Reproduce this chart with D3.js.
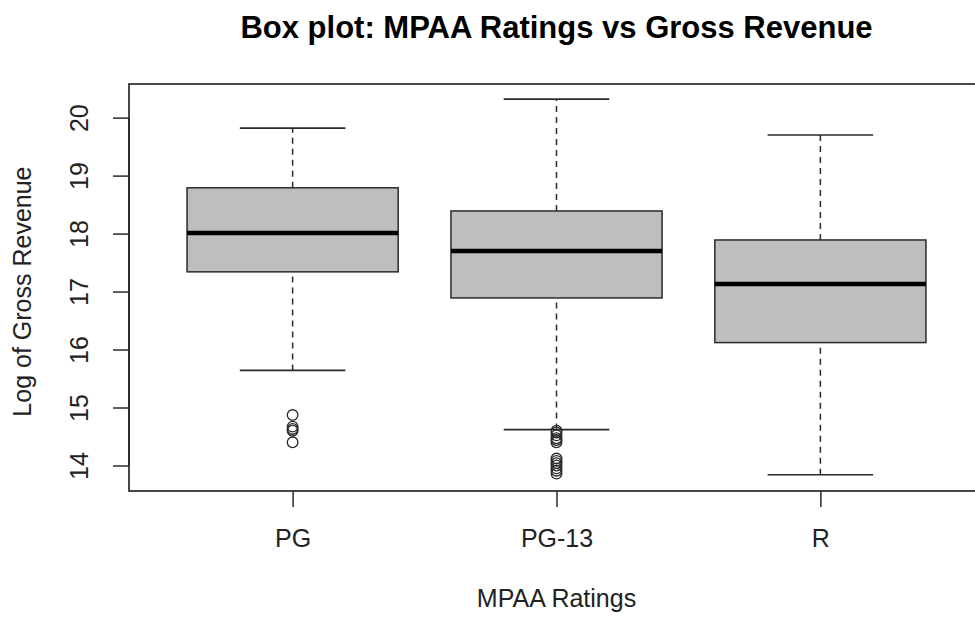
<!DOCTYPE html>
<html>
<head>
<meta charset="utf-8">
<script src="https://cdn.jsdelivr.net/npm/d3@7"></script>
<style>
  body { margin: 0; background: #fff; }
  svg { display: block; font-family: "Liberation Sans", Arial, sans-serif; }
</style>
</head>
<body>
<div id="chart"></div>
<script>
const categories = ["PG", "PG-13", "R"];
const whiskerLow = [15.64, 14.62, 13.84];
const q1 = [17.34, 16.89, 16.12];
const median = [18.01, 17.70, 17.13];
const q3 = [18.79, 18.39, 17.89];
const whiskerHigh = [19.82, 20.32, 19.70];
const outliersPG = [14.87, 14.67, 14.63, 14.60, 14.40];
const outliersPG13 = [14.60, 14.57, 14.52, 14.47, 14.44, 14.40, 14.12, 14.08, 14.04, 14.00, 13.95, 13.91, 13.86];
const outliersR = [];
const yTicks = [14, 15, 16, 17, 18, 19, 20];

const width = 975, height = 619;
const margin = {top: 84, right: -9, bottom: 128, left: 129};

const svg = d3.select("#chart").append("svg")
  .attr("width", width)
  .attr("height", height);

const x = d3.scalePoint()
  .domain(categories)
  .range([margin.left, width - margin.right])
  .padding(0.62);

const y = d3.scaleLinear()
  .domain([13.56, 20.58])
  .range([height - margin.bottom, margin.top]);

const step = x.step();
const boxW = step * 0.8, capW = step * 0.4;
const ink = "#2a2a2a";

const boxes = categories.map((c, i) => ({
  cat: c, lo: whiskerLow[i], q1: q1[i], med: median[i], q3: q3[i], hi: whiskerHigh[i],
  out: [outliersPG, outliersPG13, outliersR][i]
}));

const g = svg.append("g");

// whiskers
g.selectAll(".whisk").data(boxes.flatMap(d => [[d.cat, d.lo, d.q1], [d.cat, d.q3, d.hi]]))
  .enter().append("line")
  .attr("x1", d => x(d[0])).attr("x2", d => x(d[0]))
  .attr("y1", d => y(d[1])).attr("y2", d => y(d[2]))
  .attr("stroke", ink).attr("stroke-width", 1.5)
  .attr("stroke-dasharray", "6,5");

// caps
g.selectAll(".cap").data(boxes.flatMap(d => [[d.cat, d.lo], [d.cat, d.hi]]))
  .enter().append("line")
  .attr("x1", d => x(d[0]) - capW / 2).attr("x2", d => x(d[0]) + capW / 2)
  .attr("y1", d => y(d[1])).attr("y2", d => y(d[1]))
  .attr("stroke", ink).attr("stroke-width", 1.7);

// boxes
g.selectAll(".box").data(boxes)
  .enter().append("rect")
  .attr("x", d => x(d.cat) - boxW / 2)
  .attr("width", boxW)
  .attr("y", d => y(d.q3))
  .attr("height", d => y(d.q1) - y(d.q3))
  .attr("fill", "#bebebe")
  .attr("stroke", ink).attr("stroke-width", 1.5);

// medians
g.selectAll(".med").data(boxes)
  .enter().append("line")
  .attr("x1", d => x(d.cat) - boxW / 2).attr("x2", d => x(d.cat) + boxW / 2)
  .attr("y1", d => y(d.med)).attr("y2", d => y(d.med))
  .attr("stroke", "#000").attr("stroke-width", 4.5);

// outliers
g.selectAll(".out").data(boxes.flatMap(d => d.out.map(v => [d.cat, v])))
  .enter().append("circle")
  .attr("cx", d => x(d[0])).attr("cy", d => y(d[1]))
  .attr("r", 5.3)
  .attr("fill", "none").attr("stroke", ink).attr("stroke-width", 1.3);

// frame
svg.append("rect")
  .attr("x", margin.left).attr("y", margin.top)
  .attr("width", width - margin.right - margin.left)
  .attr("height", height - margin.bottom - margin.top)
  .attr("fill", "none").attr("stroke", ink).attr("stroke-width", 1.7);

// y axis
const yAxis = svg.append("g")
  .attr("transform", `translate(${margin.left},0)`)
  .call(d3.axisLeft(y).tickValues(yTicks).tickFormat(d3.format("d")).tickSize(16).tickPadding(0));
yAxis.select(".domain").attr("stroke", ink).attr("stroke-width", 1.7)
  .attr("d", `M0,${y(14)}V${y(20)}`);
yAxis.selectAll(".tick line").attr("stroke", ink).attr("stroke-width", 1.5);
yAxis.selectAll(".tick text")
  .attr("transform", "rotate(-90)")
  .attr("x", 0).attr("y", -41).attr("dy", 0)
  .attr("text-anchor", "middle")
  .attr("font-size", 25).attr("fill", "#222")
  .attr("font-family", "Liberation Sans, Arial, sans-serif");

// x axis
const xAxis = svg.append("g")
  .attr("transform", `translate(0,${height - margin.bottom})`)
  .call(d3.axisBottom(x).tickSize(16).tickPadding(0));
xAxis.select(".domain").remove();
xAxis.selectAll(".tick line").attr("stroke", ink).attr("stroke-width", 1.5);
xAxis.selectAll(".tick text")
  .attr("y", 56).attr("dy", 0)
  .attr("font-size", 25).attr("fill", "#222")
  .attr("font-family", "Liberation Sans, Arial, sans-serif");

// labels
const cx = (129 + 984) / 2;
svg.append("text")
  .attr("x", cx).attr("y", 38)
  .attr("text-anchor", "middle")
  .attr("font-size", 31).attr("font-weight", "bold").attr("fill", "#000")
  .text("Box plot: MPAA Ratings vs Gross Revenue");

svg.append("text")
  .attr("x", cx).attr("y", 607)
  .attr("text-anchor", "middle")
  .attr("font-size", 25).attr("fill", "#222")
  .text("MPAA Ratings");

svg.append("text")
  .attr("transform", `translate(31,${y(17)}) rotate(-90)`)
  .attr("text-anchor", "middle")
  .attr("font-size", 25).attr("fill", "#222")
  .text("Log of Gross Revenue");
</script>
</body>
</html>
